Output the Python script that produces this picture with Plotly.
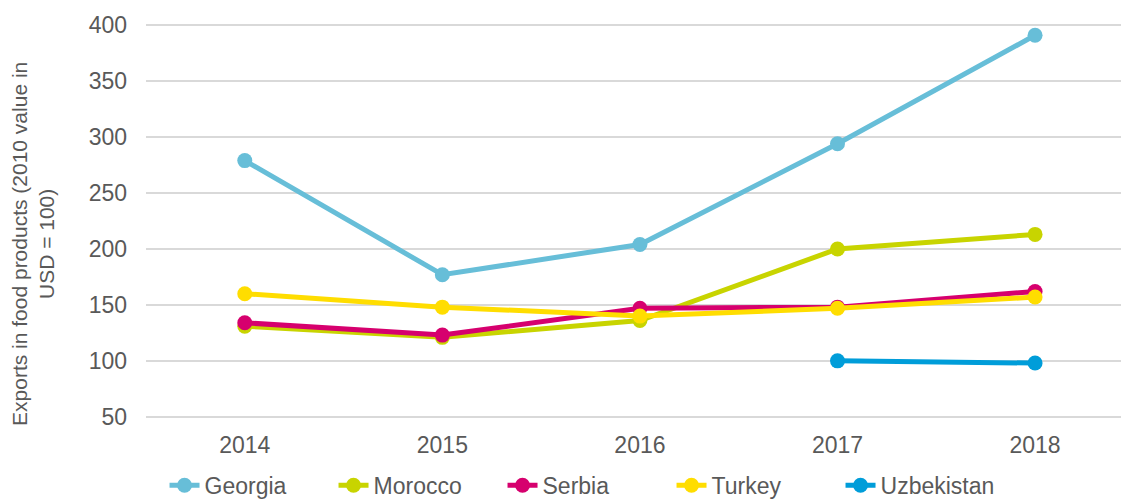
import plotly.graph_objects as go

years = [2014, 2015, 2016, 2017, 2018]
georgia = [279, 177, 204, 294, 391]
morocco = [131, 121, 136, 200, 213]
serbia = [134, 123, 147, 148, 162]
turkey = [160, 148, 140, 147, 157]
uzbekistan = [None, None, None, 100, 98]

series = [
    ("Georgia", georgia, "#67BED8"),
    ("Morocco", morocco, "#C8D400"),
    ("Serbia", serbia, "#D6006E"),
    ("Turkey", turkey, "#FFDD00"),
    ("Uzbekistan", uzbekistan, "#009DD9"),
]

fig = go.Figure()
for name, vals, col in series:
    fig.add_trace(go.Scatter(
        x=years, y=vals, name=name, mode="lines+markers",
        line=dict(color=col, width=5),
        marker=dict(color=col, size=15),
        cliponaxis=False, connectgaps=False,
    ))

font = "Liberation Sans, Arial, sans-serif"
fig.update_layout(
    width=1121, height=500,
    margin=dict(l=146, r=0, t=23, b=81, autoexpand=False),
    paper_bgcolor="white", plot_bgcolor="white",
    font=dict(family=font, color="#595959", size=23),
    showlegend=True,
    legend=dict(orientation="h", x=0.019, xanchor="left", y=-0.113, yanchor="top",
                font=dict(size=23, color="#595959"),
                entrywidth=124, entrywidthmode="pixels",
                itemwidth=30, tracegroupgap=0),
    xaxis=dict(range=[2013.5, 2018.435], tickvals=years, ticktext=[str(y) for y in years],
               showgrid=False, zeroline=False, showline=False, ticks="",
               ticklabelstandoff=10,
               tickfont=dict(size=23, color="#595959")),
    yaxis=dict(range=[48, 402], tickvals=[50, 100, 150, 200, 250, 300, 350, 400],
               showgrid=True, gridcolor="#D9D9D9", gridwidth=2, zeroline=False,
               showline=False, ticks="", ticklabelstandoff=18,
               tickfont=dict(size=23, color="#595959")),
    annotations=[dict(
        text="Exports in food products (2010 value in<br>USD = 100)",
        textangle=-90, xref="paper", yref="paper", x=-0.1159, y=0.442,
        xanchor="center", yanchor="middle", showarrow=False,
        font=dict(size=21, color="#595959"),
    )],
)

fig.write_html(
    "out.html",
    config={"displayModeBar": False},
    post_script="document.body.style.margin='0';document.documentElement.style.overflow='hidden';document.body.style.overflow='hidden';",
)
